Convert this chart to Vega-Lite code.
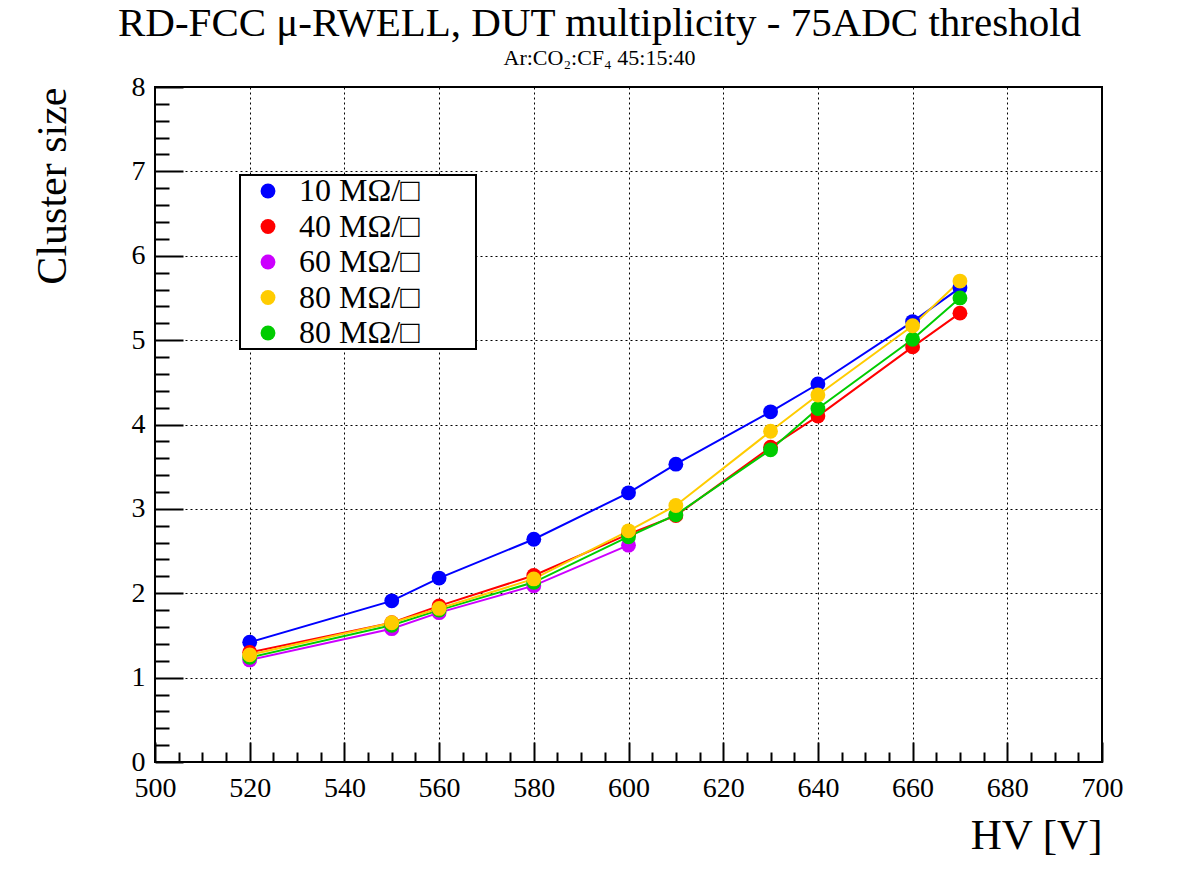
{
  "$schema": "https://vega.github.io/schema/vega-lite/v6.json",
  "width": 947,
  "height": 675,
  "autosize": "none",
  "padding": {"left": 155, "top": 87, "right": 96, "bottom": 114},
  "background": "white",
  "config": {
    "font": "Liberation Serif",
    "view": {"stroke": "black", "strokeWidth": 2},
    "axis": {"labelFont": "Liberation Serif", "titleFont": "Liberation Serif"},
    "legend": {"labelFont": "Liberation Serif", "strokeWidth": 2},
    "style": {
      "guide-label": {"font": "Liberation Serif"},
      "guide-title": {"font": "Liberation Serif"}
    }
  },
  "title": {
    "text": "RD-FCC μ-RWELL, DUT multiplicity - 75ADC threshold",
    "subtitle": "Ar:CO₂:CF₄ 45:15:40",
    "font": "Liberation Serif",
    "fontSize": 41,
    "fontWeight": "normal",
    "subtitleFont": "Liberation Serif",
    "subtitleFontSize": 22,
    "subtitlePadding": 3,
    "anchor": "middle",
    "dx": -29,
    "offset": 3,
    "color": "black",
    "subtitleColor": "black"
  },
  "data": {
    "values": [
      {"hv": 520, "size": 1.42, "s": "a10"},
      {"hv": 550, "size": 1.91, "s": "a10"},
      {"hv": 560, "size": 2.18, "s": "a10"},
      {"hv": 580, "size": 2.64, "s": "a10"},
      {"hv": 600, "size": 3.19, "s": "a10"},
      {"hv": 610, "size": 3.53, "s": "a10"},
      {"hv": 630, "size": 4.15, "s": "a10"},
      {"hv": 640, "size": 4.48, "s": "a10"},
      {"hv": 660, "size": 5.22, "s": "a10"},
      {"hv": 670, "size": 5.62, "s": "a10"},
      {"hv": 520, "size": 1.30, "s": "b40"},
      {"hv": 550, "size": 1.65, "s": "b40"},
      {"hv": 560, "size": 1.85, "s": "b40"},
      {"hv": 580, "size": 2.21, "s": "b40"},
      {"hv": 600, "size": 2.70, "s": "b40"},
      {"hv": 610, "size": 2.92, "s": "b40"},
      {"hv": 630, "size": 3.73, "s": "b40"},
      {"hv": 640, "size": 4.10, "s": "b40"},
      {"hv": 660, "size": 4.92, "s": "b40"},
      {"hv": 670, "size": 5.32, "s": "b40"},
      {"hv": 520, "size": 1.21, "s": "c60"},
      {"hv": 550, "size": 1.58, "s": "c60"},
      {"hv": 560, "size": 1.77, "s": "c60"},
      {"hv": 580, "size": 2.09, "s": "c60"},
      {"hv": 600, "size": 2.57, "s": "c60"},
      {"hv": 520, "size": 1.24, "s": "e80"},
      {"hv": 550, "size": 1.62, "s": "e80"},
      {"hv": 560, "size": 1.80, "s": "e80"},
      {"hv": 580, "size": 2.13, "s": "e80"},
      {"hv": 600, "size": 2.67, "s": "e80"},
      {"hv": 610, "size": 2.93, "s": "e80"},
      {"hv": 630, "size": 3.70, "s": "e80"},
      {"hv": 640, "size": 4.19, "s": "e80"},
      {"hv": 660, "size": 5.01, "s": "e80"},
      {"hv": 670, "size": 5.50, "s": "e80"},
      {"hv": 520, "size": 1.27, "s": "d80"},
      {"hv": 550, "size": 1.65, "s": "d80"},
      {"hv": 560, "size": 1.82, "s": "d80"},
      {"hv": 580, "size": 2.17, "s": "d80"},
      {"hv": 600, "size": 2.74, "s": "d80"},
      {"hv": 610, "size": 3.04, "s": "d80"},
      {"hv": 630, "size": 3.92, "s": "d80"},
      {"hv": 640, "size": 4.35, "s": "d80"},
      {"hv": 660, "size": 5.17, "s": "d80"},
      {"hv": 670, "size": 5.70, "s": "d80"}
    ]
  },
  "resolve": {"axis": {"x": "independent", "y": "independent"}},
  "layer": [
    {
      "mark": {"type": "point", "opacity": 0},
      "encoding": {
        "x": {
          "field": "hv",
          "type": "quantitative",
          "scale": {"domain": [500, 700], "nice": false, "zero": false},
          "axis": {
            "orient": "bottom",
            "title": null,
            "values": [505,510,515,525,530,535,545,550,555,565,570,575,585,590,595,605,610,615,625,630,635,645,650,655,665,670,675,685,690,695],
            "labels": false,
            "grid": false,
            "domain": false,
            "tickColor": "black",
            "tickWidth": 2,
            "tickSize": -10
          }
        },
        "y": {
          "field": "size",
          "type": "quantitative",
          "scale": {"domain": [0, 8], "nice": false},
          "axis": {
            "orient": "left",
            "title": null,
            "values": [0.2,0.4,0.6,0.8,1.2,1.4,1.6,1.8,2.2,2.4,2.6,2.8,3.2,3.4,3.6,3.8,4.2,4.4,4.6,4.8,5.2,5.4,5.6,5.8,6.2,6.4,6.6,6.8,7.2,7.4,7.6,7.8],
            "labels": false,
            "grid": false,
            "domain": false,
            "tickColor": "black",
            "tickWidth": 2,
            "tickSize": -14
          }
        }
      }
    },
    {
      "mark": {"type": "line", "strokeWidth": 2, "point": {"filled": true, "size": 220, "opacity": 1}},
      "encoding": {
        "x": {
          "field": "hv",
          "type": "quantitative",
          "scale": {"domain": [500, 700], "nice": false, "zero": false},
          "axis": {
            "orient": "bottom",
            "title": "HV [V]",
            "titleFont": "Liberation Serif",
            "titleFontSize": 43,
            "titleFontWeight": "normal",
            "titleAlign": "right",
            "titleBaseline": "alphabetic",
            "titleX": 947,
            "titleY": 86,
            "titleColor": "black",
            "values": [500,520,540,560,580,600,620,640,660,680,700],
            "labelFont": "Liberation Serif",
            "labelFontSize": 28,
            "labelColor": "black",
            "labelPadding": 32,
            "labelFlush": false,
            "labelOverlap": false,
            "tickColor": "black",
            "tickWidth": 2,
            "tickSize": -20,
            "domain": false,
            "grid": true,
            "gridColor": "black",
            "gridDash": [2, 3],
            "gridWidth": 1
          }
        },
        "y": {
          "field": "size",
          "type": "quantitative",
          "scale": {"domain": [0, 8], "nice": false},
          "axis": {
            "orient": "left",
            "title": "Cluster size",
            "titleFont": "Liberation Serif",
            "titleFontSize": 42,
            "titleFontWeight": "normal",
            "titleAngle": -90,
            "titleAlign": "right",
            "titleBaseline": "middle",
            "titleX": -103,
            "titleY": 0,
            "titleColor": "black",
            "values": [0,1,2,3,4,5,6,7,8],
            "labelFont": "Liberation Serif",
            "labelFontSize": 28,
            "labelColor": "black",
            "labelPadding": 38,
            "labelFlush": false,
            "labelOverlap": false,
            "tickColor": "black",
            "tickWidth": 2,
            "tickSize": -28,
            "domain": false,
            "grid": true,
            "gridColor": "black",
            "gridDash": [2, 3],
            "gridWidth": 1
          }
        },
        "color": {
          "field": "s",
          "type": "nominal",
          "scale": {
            "domain": ["a10", "b40", "c60", "d80", "e80"],
            "range": ["#0000ff", "#ff0000", "#cc00ff", "#ffcc00", "#00cc00"]
          },
          "legend": {
            "title": null,
            "orient": "none",
            "legendX": 85,
            "legendY": 88,
            "labelExpr": "slice(datum.value, 1) + ' MΩ/□\u00a0\u00a0\u00a0\u00a0\u00a0\u00a0\u00a0\u200b'",
            "labelFont": "Liberation Serif",
            "labelFontSize": 32,
            "labelColor": "black",
            "labelOffset": 15,
            "symbolOffset": 12,
            "symbolType": "circle",
            "symbolSize": 220,
            "symbolStrokeWidth": 0,
            "rowPadding": 3.5,
            "padding": 0,
            "strokeColor": "black",
            "fillColor": "white",
            "labelLimit": 400
          }
        },
        "order": {"field": "hv", "type": "quantitative"}
      }
    }
  ]
}
